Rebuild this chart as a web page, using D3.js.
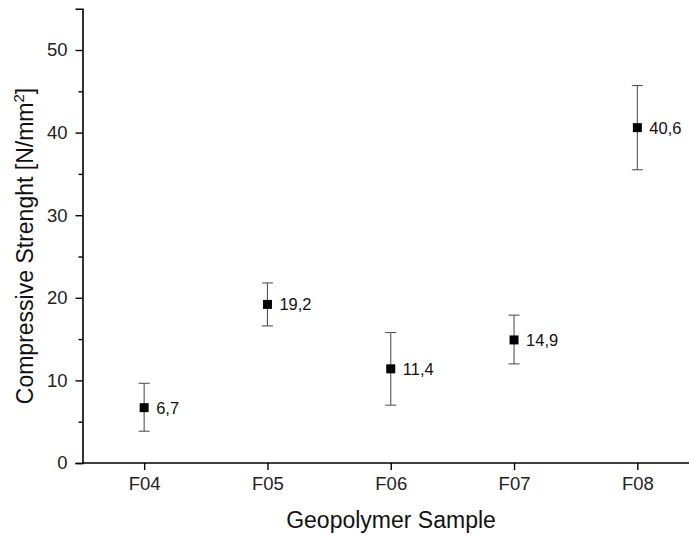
<!DOCTYPE html>
<html>
<head>
<meta charset="utf-8">
<script src="https://cdn.jsdelivr.net/npm/d3@7"></script>
<style>
  html, body { margin: 0; padding: 0; background: #fff; }
  svg { display: block; font-family: "Liberation Sans", Arial, sans-serif; }
</style>
</head>
<body>
<svg id="chart" width="689" height="538"></svg>
<script>
// ---- data ----
const categories = ["F04", "F05", "F06", "F07", "F08"];
const values     = [6.7, 19.2, 11.4, 14.9, 40.6];
const errLow     = [3.85, 16.6, 7.0, 12.0, 35.5];
const errHigh    = [9.65, 21.8, 15.8, 17.9, 45.7];
const valueLabels = ["6,7", "19,2", "11,4", "14,9", "40,6"];
const yMajorTicks = [0, 10, 20, 30, 40, 50];
const yMinorTicks = [5, 15, 25, 35, 45];
const xTitle = "Geopolymer Sample";

// ---- layout ----
const svg = d3.select("#chart");
const padLeft = 82.5, padBottom = 463, padTop = 8.7, padRight = 699;
const FONT = "Liberation Sans, Arial, sans-serif";

const x = d3.scalePoint().domain(categories).range([padLeft, padRight]).padding(0.5);
const y = d3.scaleLinear().domain([0, 55]).range([padBottom, padTop]);

// y axis (major)
const gy = svg.append("g").attr("transform", `translate(${padLeft},0)`)
  .call(d3.axisLeft(y).tickValues(yMajorTicks).tickSize(7).tickPadding(8).tickFormat(d3.format("d")));
gy.select(".domain").attr("stroke", "#000").attr("stroke-width", 1.6);
gy.selectAll(".tick line").attr("stroke", "#000").attr("stroke-width", 1.4);
gy.selectAll(".tick text").attr("font-size", 18.5).attr("fill", "#222").attr("font-family", FONT);

// y axis (minor)
svg.append("g").attr("transform", `translate(${padLeft},0)`)
  .call(d3.axisLeft(y).tickValues(yMinorTicks).tickSize(4).tickFormat(""))
  .call(g => g.select(".domain").remove())
  .call(g => g.selectAll(".tick line").attr("stroke", "#000").attr("stroke-width", 1.4));

// x axis
const gx = svg.append("g").attr("transform", `translate(0,${padBottom})`)
  .call(d3.axisBottom(x).tickSize(7).tickPadding(7).tickSizeOuter(0));
gx.select(".domain").attr("stroke", "#000").attr("stroke-width", 1.6)
  .attr("d", `M${padLeft},0H${padRight}`);
gx.selectAll(".tick line").attr("stroke", "#000").attr("stroke-width", 1.4);
gx.selectAll(".tick text").attr("font-size", 18.5).attr("fill", "#222").attr("font-family", FONT);

// axis titles
svg.append("text")
  .attr("x", 391).attr("y", 528)
  .attr("text-anchor", "middle")
  .attr("font-family", FONT)
  .attr("font-size", 23).attr("fill", "#111")
  .text(xTitle);

const yt = svg.append("text")
  .attr("transform", "translate(33,246) rotate(-90)")
  .attr("text-anchor", "middle")
  .attr("font-family", FONT)
  .attr("font-size", 23).attr("fill", "#111");
yt.append("tspan").text("Compressive Strenght [N/mm");
yt.append("tspan").attr("font-size", 15).attr("dy", -9).text("2");
yt.append("tspan").attr("dy", 9).text("]");

// error bars
const data = categories.map((c, i) => ({ c, v: values[i], lo: errLow[i], hi: errHigh[i], lab: valueLabels[i] }));
const capW = 5.5;
const eb = svg.append("g").attr("stroke", "#555").attr("stroke-width", 1.1);
eb.selectAll("line.v").data(data).join("line").attr("class", "v")
  .attr("x1", d => x(d.c)).attr("x2", d => x(d.c))
  .attr("y1", d => y(d.lo)).attr("y2", d => y(d.hi));
eb.selectAll("line.t").data(data).join("line").attr("class", "t")
  .attr("x1", d => x(d.c) - capW).attr("x2", d => x(d.c) + capW)
  .attr("y1", d => y(d.hi)).attr("y2", d => y(d.hi));
eb.selectAll("line.b").data(data).join("line").attr("class", "b")
  .attr("x1", d => x(d.c) - capW).attr("x2", d => x(d.c) + capW)
  .attr("y1", d => y(d.lo)).attr("y2", d => y(d.lo));

// markers
const ms = 9;
svg.append("g").selectAll("rect").data(data).join("rect")
  .attr("x", d => x(d.c) - ms / 2).attr("y", d => y(d.v) - ms / 2)
  .attr("width", ms).attr("height", ms).attr("fill", "#000");

// value labels
svg.append("g").selectAll("text").data(data).join("text")
  .attr("x", d => x(d.c) + 12).attr("y", d => y(d.v))
  .attr("dy", "0.36em")
  .attr("font-family", FONT)
  .attr("font-size", 16.5).attr("fill", "#111")
  .text(d => d.lab);
</script>
</body>
</html>
